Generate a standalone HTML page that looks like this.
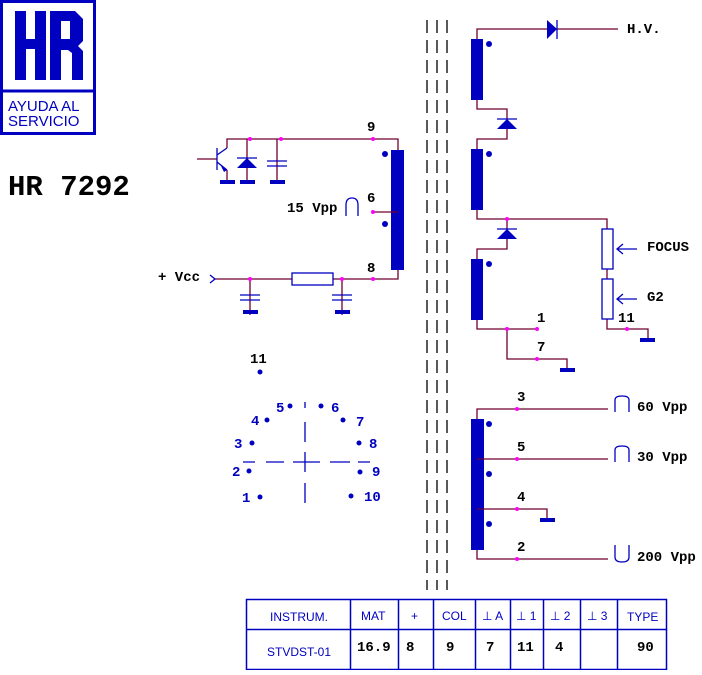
<!DOCTYPE html>
<html><head><meta charset="utf-8"><style>
body{margin:0;background:#fff}
svg text{font-family:"Liberation Mono",monospace;font-weight:bold;font-size:14px;fill:#000}
.b{fill:#0000c0}
.w{stroke:#700030;stroke-width:1.3;fill:none}
.t{font-family:"Liberation Sans",sans-serif;font-weight:normal;fill:#0000c0;font-size:12px}
</style></head><body>
<svg width="702" height="670" viewBox="0 0 702 670" xmlns="http://www.w3.org/2000/svg">
<!-- logo -->
<rect x="1.5" y="1.5" width="93" height="132" fill="none" stroke="#0000c0" stroke-width="3"/>
<line x1="1" y1="91" x2="96" y2="91" stroke="#0000c0" stroke-width="3"/>
<path class="b" d="M15 11h11v28h9v-28h11v69h-11v-31h-9v31h-11z"/>
<path class="b" d="M50 11h25l8 8v22l-5 5 5 5v29h-11v-27l-4-3h-7v30h-11zM61 21v18h9v-18z" fill-rule="evenodd"/>
<text x="8" y="111" style="font-family:'Liberation Sans',sans-serif;font-weight:normal;font-size:15px;fill:#0000c0">AYUDA AL</text>
<text x="8" y="126" style="font-family:'Liberation Sans',sans-serif;font-weight:normal;font-size:15px;fill:#0000c0">SERVICIO</text>
<text x="8" y="195" style="font-size:29px">HR 7292</text>

<!-- core -->
<g stroke="#000" stroke-width="1.3" stroke-dasharray="13,7"><line x1="427" y1="20" x2="427" y2="590"/><line x1="437" y1="20" x2="437" y2="590"/><line x1="447" y1="20" x2="447" y2="590"/></g>

<!-- primary -->
<rect class="b" x="391" y="150" width="13" height="120"/>
<circle class="b" cx="385" cy="154" r="3"/><circle class="b" cx="385" cy="224" r="3"/>
<path class="w" d="M227 148V139H398V150M373 212H398M215 279H398V270"/>
<path class="w" d="M197 159H217M247 139V180M277 139V180M227 170V180M250 279V315M342 279V315"/>
<line x1="217" y1="148" x2="217" y2="170" stroke="#0000c0" stroke-width="1.3"/>
<path d="M217 155L227 148M217 162L227 170" stroke="#0000c0" stroke-width="1.3"/>
<path class="b" d="M227 170L220 164L224 172z"/>
<path class="b" d="M237 168H257L247 158z"/><line x1="237" y1="158" x2="257" y2="158" stroke="#0000c0" stroke-width="1.3"/>
<path d="M267 161H287M267 166H287M240 295H260M240 300H260M332 295H352M332 300H352" stroke="#0000c0" stroke-width="1.3"/>
<rect class="b" x="220" y="180" width="15" height="4"/><rect class="b" x="240" y="180" width="15" height="4"/><rect class="b" x="270" y="180" width="15" height="4"/>
<rect class="b" x="243" y="310" width="15" height="4"/><rect class="b" x="335" y="310" width="15" height="4"/>
<rect x="292" y="273" width="41" height="12" fill="#fff" stroke="#0000c0" stroke-width="1.3"/>
<path d="M210 275L215 279L210 283" stroke="#0000c0" stroke-width="1.3" fill="none"/>
<path d="M346 216V205Q346 198 352 198Q358 198 358 205V216" stroke="#0000c0" stroke-width="1.3" fill="none"/>
<g fill="#f0f"><circle cx="250" cy="139" r="2"/><circle cx="281" cy="139" r="2"/><circle cx="373" cy="139" r="2"/><circle cx="373" cy="212" r="2"/><circle cx="250" cy="279" r="2"/><circle cx="342" cy="279" r="2"/><circle cx="373" cy="279" r="2"/></g>
<text x="367" y="131">9</text><text x="367" y="202">6</text><text x="367" y="272">8</text>
<text x="287" y="212">15 Vpp</text><text x="158" y="281">+ Vcc</text>

<!-- HV -->
<rect class="b" x="471" y="39" width="12" height="61"/><rect class="b" x="471" y="149" width="12" height="61"/><rect class="b" x="471" y="259" width="12" height="61"/>
<circle class="b" cx="489" cy="44" r="3"/><circle class="b" cx="489" cy="154" r="3"/><circle class="b" cx="489" cy="264" r="3"/>
<path class="w" d="M477 39V29H618M477 100V109H507V119M507 129V139H477V149M477 210V219H607V229M607 269V279M607 319V329H648V338M507 219V229M507 239V249H477V259M477 320V329H537M507 329V359H567V368"/>
<path class="b" d="M547 20V39L557 29z"/><line x1="557" y1="20" x2="557" y2="39" stroke="#0000c0" stroke-width="1.3"/>
<path class="b" d="M497 129H517L507 119z"/><line x1="497" y1="119" x2="517" y2="119" stroke="#0000c0" stroke-width="1.3"/>
<path class="b" d="M497 239H517L507 229z"/><line x1="497" y1="229" x2="517" y2="229" stroke="#0000c0" stroke-width="1.3"/>
<rect x="602" y="229" width="11" height="40" fill="#fff" stroke="#0000c0" stroke-width="1.3"/>
<rect x="602" y="279" width="11" height="40" fill="#fff" stroke="#0000c0" stroke-width="1.3"/>
<path d="M637 249H617M623 244L617 249L623 254M637 299H617M623 294L617 299L623 304" stroke="#0000c0" stroke-width="1.3" fill="none"/>
<rect class="b" x="640" y="338" width="15" height="4"/><rect class="b" x="560" y="368" width="15" height="4"/>
<g fill="#f0f"><circle cx="507" cy="219" r="2"/><circle cx="627" cy="329" r="2"/><circle cx="507" cy="329" r="2"/><circle cx="537" cy="329" r="2"/><circle cx="537" cy="359" r="2"/></g>
<text x="627" y="33">H.V.</text><text x="647" y="251">FOCUS</text><text x="647" y="301">G2</text>
<text x="618" y="322">11</text><text x="537" y="322">1</text><text x="537" y="351">7</text>

<!-- secondary -->
<rect class="b" x="471" y="419" width="13" height="131"/>
<circle class="b" cx="489" cy="424" r="3"/><circle class="b" cx="489" cy="474" r="3"/><circle class="b" cx="489" cy="524" r="3"/>
<path class="w" d="M477 419V409H608M477 459H608M477 509H547V518M477 550V559H608"/>
<rect class="b" x="540" y="518" width="15" height="4"/>
<path d="M615 412V400Q615 396 622 396Q629 396 629 400V412M615 462V450Q615 446 622 446Q629 446 629 450V462M615 545V557Q615 562 622 562Q629 562 629 557V545" stroke="#0000c0" stroke-width="1.3" fill="none"/>
<g fill="#f0f"><circle cx="517" cy="409" r="2"/><circle cx="517" cy="459" r="2"/><circle cx="517" cy="509" r="2"/><circle cx="517" cy="559" r="2"/></g>
<text x="517" y="401">3</text><text x="517" y="451">5</text><text x="517" y="501">4</text><text x="517" y="551">2</text>
<text x="637" y="411">60 Vpp</text><text x="637" y="461">30 Vpp</text><text x="637" y="561">200 Vpp</text>

<!-- pinout -->
<g class="b"><circle cx="260" cy="372" r="2.5"/><circle cx="290" cy="406" r="2.5"/><circle cx="321" cy="406" r="2.5"/><circle cx="267" cy="420" r="2.5"/><circle cx="343" cy="420" r="2.5"/><circle cx="252" cy="443" r="2.5"/><circle cx="359" cy="443" r="2.5"/><circle cx="249" cy="471" r="2.5"/><circle cx="360" cy="472" r="2.5"/><circle cx="260" cy="497" r="2.5"/><circle cx="351" cy="496" r="2.5"/></g>
<g><text x="250" y="363">11</text><text x="276" y="412" style="fill:#0000c0">5</text><text x="331" y="412" style="fill:#0000c0">6</text><text x="251" y="425" style="fill:#0000c0">4</text><text x="356" y="426" style="fill:#0000c0">7</text><text x="234" y="448" style="fill:#0000c0">3</text><text x="369" y="448" style="fill:#0000c0">8</text><text x="232" y="476" style="fill:#0000c0">2</text><text x="372" y="476" style="fill:#0000c0">9</text><text x="242" y="502" style="fill:#0000c0">1</text><text x="364" y="501" style="fill:#0000c0">10</text></g>
<path d="M305 402V408M305 422V442M305 452V472M305 483V503M243 462H255M266 462H284M293 462H320M330 462H350M358 462H370" stroke="#0000c0" stroke-width="1.3"/>

<!-- table -->
<g stroke="#0000c0" stroke-width="1.5" fill="none"><rect x="246.5" y="599.5" width="420" height="70"/><line x1="246" y1="629.5" x2="667" y2="629.5"/>
<path d="M350.5 599V670M398.5 599V670M433.5 599V670M475.5 599V670M510.5 599V670M543.5 599V670M580.5 599V670M617.5 599V670"/></g>
<g><text x="270" y="621" class="t">INSTRUM.</text><text x="361" y="620" class="t">MAT</text><text x="411" y="620" class="t">+</text><text x="442" y="620" class="t">COL</text><text x="482" y="620" class="t">⊥ A</text><text x="516" y="620" class="t">⊥ 1</text><text x="550" y="620" class="t">⊥ 2</text><text x="587" y="620" class="t">⊥ 3</text><text x="627" y="621" class="t">TYPE</text><text x="267" y="656" class="t">STVDST-01</text></g>
<text x="357" y="651">16.9</text><text x="406" y="651">8</text><text x="446" y="651">9</text><text x="486" y="651">7</text><text x="517" y="651">11</text><text x="555" y="651">4</text><text x="637" y="651">90</text>
</svg>
</body></html>
